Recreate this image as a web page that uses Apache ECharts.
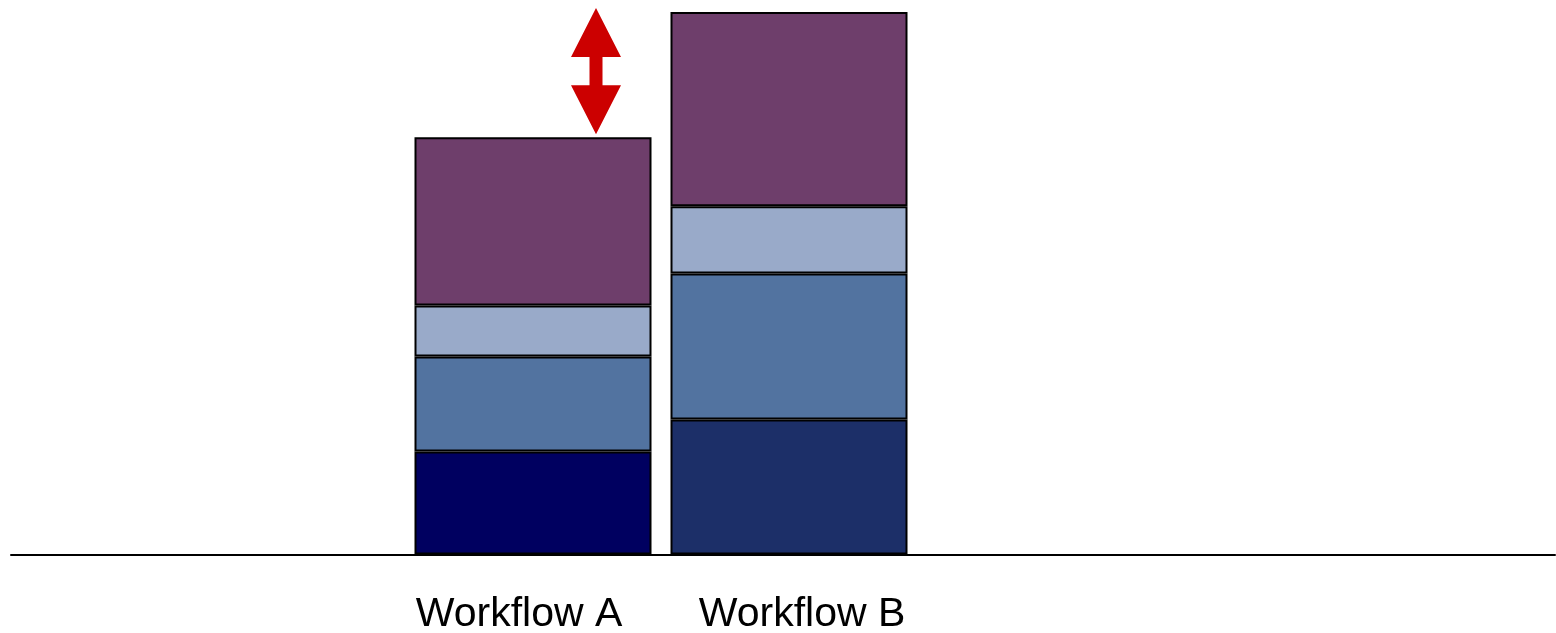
<!DOCTYPE html>
<html><head><meta charset="utf-8">
<script src="https://cdn.jsdelivr.net/npm/echarts@6/dist/echarts.min.js"></script>
<style>html,body{margin:0;padding:0;background:#fff}#c{width:1556px;height:633px}</style>
</head><body><div id="c"></div>
<script>
const categories = ['Workflow A', 'Workflow B'];
const seg1 = [19.0, 24.9];   // bottom dark segment
const seg2 = [17.5, 26.9];   // mid blue
const seg3 = [9.4, 12.4];    // light blue
const seg4 = [31.0, 35.8];   // purple top
const bottomColors = ['#000060', '#1c2f68'];

const totals = categories.map((c, i) => seg1[i] + seg2[i] + seg3[i] + seg4[i]);

const chart = echarts.init(document.getElementById('c'));
const border = { borderColor: '#000', borderWidth: 2 };
function barSeries(name, data, color) {
  return {
    name, type: 'bar', stack: 'total', data: data.map((v, i) => ({
      value: v, itemStyle: { color: typeof color === 'function' ? color(i) : color }
    })),
    barWidth: 237, itemStyle: border, emphasis: { disabled: true },
    xAxisIndex: 0, yAxisIndex: 0
  };
}
chart.setOption({
  animation: false,
  grid: [
    { left: 405, right: 639, top: 12, bottom: 78.5, containLabel: false, outerBoundsMode: 'none' },
    { left: 11, right: 1, top: 12, bottom: 78.5, containLabel: false, outerBoundsMode: 'none' }
  ],
  xAxis: [
    { type: 'category', gridIndex: 0, data: categories,
      axisLine: { show: false }, axisTick: { show: false },
      axisLabel: {
        interval: 0, hideOverlap: false,
        margin: 40, fontSize: 41, color: '#000', fontFamily: 'Liberation Sans, Arial, sans-serif',
        formatter: (v, i) => i === 0 ? '{a|' + v + '}' : '{b|' + v + '}',
        rich: {
          a: { fontSize: 41, color: '#000', fontFamily: 'Liberation Sans, Arial, sans-serif', padding: [0, 28, 0, 0] },
          b: { fontSize: 41, color: '#000', fontFamily: 'Liberation Sans, Arial, sans-serif', padding: [0, 0, 0, 26] }
        }
      } },
    { type: 'value', gridIndex: 1, min: 0, max: 1,
      axisLine: { show: true, onZero: false, lineStyle: { color: '#000', width: 2 } },
      axisTick: { show: false }, axisLabel: { show: false }, splitLine: { show: false } }
  ],
  yAxis: [
    { type: 'value', gridIndex: 0, min: 0, max: 100, show: false, splitLine: { show: false } },
    { type: 'value', gridIndex: 1, min: 0, max: 1, show: false, splitLine: { show: false } }
  ],
  series: [
    barSeries('Segment 1', seg1, i => bottomColors[i]),
    barSeries('Segment 2', seg2, '#5273a0'),
    barSeries('Segment 3', seg3, '#99aac9'),
    barSeries('Segment 4', seg4, '#6e3e6b'),
    {
      type: 'custom', xAxisIndex: 0, yAxisIndex: 0, silent: true, z: 10,
      data: [[categories[0], totals[0], totals[1]]],
      renderItem: function (params, api) {
        const pLow = api.coord([api.value(0), api.value(1)]);
        const pHigh = api.coord([api.value(0), api.value(2)]);
        const x = pLow[0] + 63;
        const yb = pLow[1] - 3;   // bottom tip
        const yt = pHigh[1] - 4;  // top tip
        const head = 49, hw = 25, sw = 6.5;
        return {
          type: 'polygon',
          shape: { points: [
            [x, yt], [x + hw, yt + head], [x + sw, yt + head], [x + sw, yb - head],
            [x + hw, yb - head], [x, yb], [x - hw, yb - head], [x - sw, yb - head],
            [x - sw, yt + head], [x - hw, yt + head]
          ] },
          style: { fill: '#cc0000' }
        };
      }
    }
  ]
});
</script>
</body></html>
